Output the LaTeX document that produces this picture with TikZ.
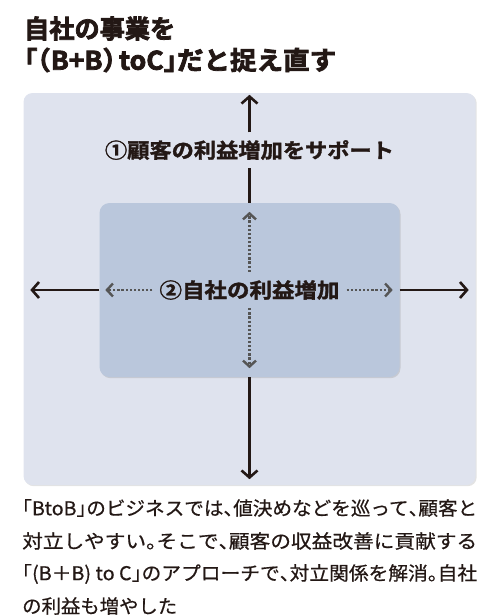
\documentclass[tikz,border=0pt]{standalone}
\usepackage{fontspec}
\usepackage{graphicx}
\setmainfont{Noto Sans CJK JP}
\newfontfamily\heavyfont[FakeBold=3]{Noto Sans CJK JP Bold}
\newfontfamily\labelfont[FakeBold=1.6]{Noto Sans CJK JP Bold}
\newfontfamily\bodyfont[FakeBold=0.6]{Noto Sans CJK JP}
\usetikzlibrary{arrows.meta,shadows,calc}
\definecolor{ink}{HTML}{231815}
\definecolor{outerfill}{HTML}{DFE3EE}
\definecolor{innerfill}{HTML}{BAC7DC}
\definecolor{dotgray}{HTML}{555555}
\newcommand{\ob}[1]{\makebox[0.5em][r]{#1}}
\newcommand{\cb}[1]{\makebox[0.5em][l]{#1}}
\newcommand{\fitw}[2]{\resizebox{#1}{\height}{#2}}
\begin{document}
\begin{tikzpicture}[x=1pt,y=-1pt,
  txt/.style={text=ink, inner sep=0pt},
  titletxt/.style={txt, anchor=west, font=\heavyfont\fontsize{25.5}{30}\selectfont},
  bodytxt/.style={txt, anchor=west, font=\bodyfont\fontsize{19}{23}\selectfont},
  outerbox/.style={fill=outerfill, draw=none, rounded corners=9pt,
    drop shadow={shadow xshift=1.2pt, shadow yshift=-1.2pt, opacity=0.22},
    minimum width=452pt, minimum height=392pt, inner sep=0pt},
  innerbox/.style={fill=innerfill, draw=none, rounded corners=10pt,
    drop shadow={shadow xshift=1pt, shadow yshift=-1.2pt, opacity=0.25},
    minimum width=300pt, minimum height=174pt, inner sep=0pt},
  solidline/.style={draw=ink, line width=2.6pt},
  solidarrow/.style={solidline, -{Straight Barb[length=7pt,width=16pt,line width=2.6pt]}},
  dotline/.style={draw=dotgray, line width=2.4pt, dash pattern=on 2.2pt off 1.9pt},
  dotarrow/.style={dotline, -{Straight Barb[length=6pt,width=13pt,line width=2.4pt]}},
  boldlabel/.style={text=ink, font=\labelfont\fontsize{20.5}{24}\selectfont,
    inner xsep=7pt, inner ysep=0pt, minimum height=35pt}
]
\useasboundingbox (0,0) rectangle (500,616);
% title
\node[titletxt] (title1) at (24,28.5) {\fitw{151pt}{自社の事業を}};
\node[titletxt] (title2) at (24,60) {\fitw{312pt}{\ob{「}\ob{（}B+B\cb{）}\hspace{0.12em}toC\cb{」}だと捉え直す}};
% boxes
\node[outerbox] (outer) at (249.5,289) {};
\node[innerbox] (inner) at (249.5,290) {};
% labels
\node[boldlabel] (lab1) at (249.5,150) {\fitw{289pt}{①顧客の利益増加をサポート}};
\node[boldlabel, minimum height=36pt] (lab2) at (249.5,290) {\fitw{180pt}{②自社の利益増加}};
% solid arrows
\coordinate (ttip) at ($(outer.north)+(0,2)$);
\coordinate (btip) at ($(outer.south)+(0,-6)$);
\coordinate (ltip) at ($(outer.west |- inner.west)+(7,0)$);
\coordinate (rtip) at ($(outer.east |- inner.east)+(-7,0)$);
\draw[solidarrow] (lab1.north) -- (ttip);
\draw[solidline] (inner.north) -- (lab1.south);
\draw[solidarrow] (inner.south) -- (btip);
\draw[solidarrow] (inner.west) -- (ltip);
\draw[solidarrow] (inner.east) -- (rtip);
% dotted arrows
\coordinate (dtop) at ($(inner.north)+(0,9)$);
\coordinate (dbot) at ($(inner.south)+(0,-9)$);
\coordinate (dleft) at ($(inner.west)+(6,0)$);
\coordinate (dright) at ($(inner.east)+(-7,0)$);
\draw[dotarrow] (lab2.north) -- (dtop);
\draw[dotarrow] (lab2.south) -- (dbot);
\draw[dotarrow] (lab2.west) -- (dleft);
\draw[dotarrow] (lab2.east) -- (dright);
% body text
\node[bodytxt] (body1) at (22,508) {\fitw{455pt}{\ob{「}BtoB\cb{」}のビジネスでは\cb{、}値決めなどを巡って\cb{、}顧客と}};
\node[bodytxt] (body2) at (22,541) {\fitw{455pt}{対立しやすい\cb{。}そこで\cb{、}顧客の収益改善に貢献する}};
\node[bodytxt] (body3) at (22,574) {\fitw{455pt}{\ob{「}(B＋B) to C\cb{」}のアプローチで\cb{、}対立関係を解消\cb{。}自社}};
\node[bodytxt] (body4) at (22,606) {\scalebox{1.02}[1]{の利益も増やした}};
\end{tikzpicture}
\end{document}
